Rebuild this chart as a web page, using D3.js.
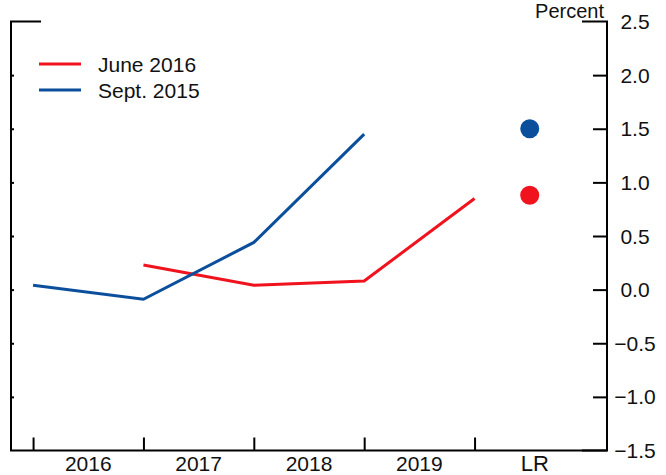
<!DOCTYPE html>
<html>
<head>
<meta charset="utf-8">
<script src="https://cdn.jsdelivr.net/npm/d3@7"></script>
<style>
  html, body { margin: 0; padding: 0; background: #fff; }
  svg { display: block; font-family: "Liberation Sans", Arial, sans-serif; }
</style>
</head>
<body>
<svg id="chart" width="666" height="475"></svg>
<script>
// Categories along the bottom axis
const categories = ["2016", "2017", "2018", "2019", "LR"];

// Projection paths, plotted at year end
const juneYears = [2016, 2017, 2018, 2019];
const juneValues = [0.23, 0.04, 0.08, 0.85];
const juneLR = 0.88;

const septYears = [2015, 2016, 2017, 2018];
const septValues = [0.04, -0.09, 0.44, 1.45];
const septLR = 1.5;

// Right-axis ticks
const yTicks = [2.5, 2.0, 1.5, 1.0, 0.5, 0.0, -0.5, -1.0, -1.5];

const series = [
  { name: "June 2016", color: "#f0131e", years: juneYears, values: juneValues, lr: juneLR },
  { name: "Sept. 2015", color: "#0b4f9c", years: septYears, values: septValues, lr: septLR }
];

const plotLeft = 11, plotRight = 607, plotTop = 21.5, plotBottom = 450.5;
const svg = d3.select("#chart");

const y = d3.scaleLinear().domain([-1.5, 2.5]).range([plotBottom, plotTop]);
const x = d3.scaleBand().domain(categories).range([plotLeft, plotRight])
  .paddingInner(0).paddingOuter(0.2);
const bw = x.bandwidth();
// Year-end position: the boundary after each year's band
const xYear = d3.scaleLinear().domain([2015, 2019]).range([x("2016"), x("2019") + bw]);

const axisColor = "#000";

// Frame: left axis, partial top edges, bottom axis, right axis
const frame = svg.append("g").attr("stroke", axisColor).attr("stroke-width", 2).attr("fill", "none");
frame.append("path").attr("d", `M${plotLeft + 30},${plotTop} H${plotLeft} V${plotBottom} H${plotRight}`);
frame.append("path").attr("d", `M${plotRight - 25},${plotTop} H${plotRight} V${plotBottom} H${plotRight - 25}`);

// Right axis ticks (inward) and labels
const yAxis = d3.axisLeft(y).tickValues(yTicks).tickSize(14).tickFormat("");
const yg = svg.append("g").attr("transform", `translate(${plotRight},0)`).call(yAxis);
yg.select(".domain").remove();
yg.selectAll(".tick line").attr("stroke", axisColor).attr("stroke-width", 2);
yg.selectAll(".tick").filter(d => d === 2.5 || d === -1.5).remove();

svg.append("g").selectAll("text").data(yTicks).join("text")
  .attr("x", 635).attr("y", d => y(d) + 7.5)
  .attr("text-anchor", "middle").attr("font-size", 21).attr("fill", "#111")
  .text(d => d3.format(".1f")(d));

// Small ticks on the left axis
const yAxisL = d3.axisRight(y).tickValues(yTicks.filter(d => d !== 2.5 && d !== -1.5)).tickSize(3).tickFormat("");
const ygl = svg.append("g").attr("transform", `translate(${plotLeft},0)`).call(yAxisL);
ygl.select(".domain").remove();
ygl.selectAll(".tick line").attr("stroke", axisColor).attr("stroke-width", 2);

// Bottom ticks at year boundaries
const xg = svg.append("g").attr("transform", `translate(0,${plotBottom})`)
  .call(d3.axisTop(xYear).tickValues([2015, 2016, 2017, 2018, 2019]).tickSize(13).tickFormat(""));
xg.select(".domain").remove();
xg.selectAll(".tick line").attr("stroke", axisColor).attr("stroke-width", 2);

// Category labels
svg.append("g").selectAll("text").data(categories).join("text")
  .attr("x", d => x(d) + bw / 2 + (d === "LR" ? 5 : 0))
  .attr("y", 471)
  .attr("text-anchor", "middle")
  .attr("font-size", d => d === "LR" ? 22 : 21)
  .attr("fill", "#111")
  .text(d => d);

// "Percent" unit label
svg.append("text").attr("x", 604).attr("y", 18).attr("text-anchor", "end")
  .attr("font-size", 20).attr("fill", "#111").text("Percent");

// Lines
const line = d3.line().x(d => xYear(d[0])).y(d => y(d[1]));
series.forEach(s => {
  svg.append("path")
    .datum(d3.zip(s.years, s.values))
    .attr("d", line)
    .attr("fill", "none").attr("stroke", s.color).attr("stroke-width", 3);
});

// Longer-run dots
svg.append("g").selectAll("circle").data(series).join("circle")
  .attr("cx", x("LR") + bw / 2)
  .attr("cy", d => y(d.lr))
  .attr("r", 9.5)
  .attr("fill", d => d.color);

// Legend
const legend = svg.append("g");
series.forEach((s, i) => {
  const ly = 64 + i * 26;
  legend.append("line").attr("x1", 39).attr("x2", 81).attr("y1", ly).attr("y2", ly)
    .attr("stroke", s.color).attr("stroke-width", 3);
  legend.append("text").attr("x", 98).attr("y", ly + 8).attr("font-size", 21).attr("fill", "#111").text(s.name);
});
</script>
</body>
</html>
